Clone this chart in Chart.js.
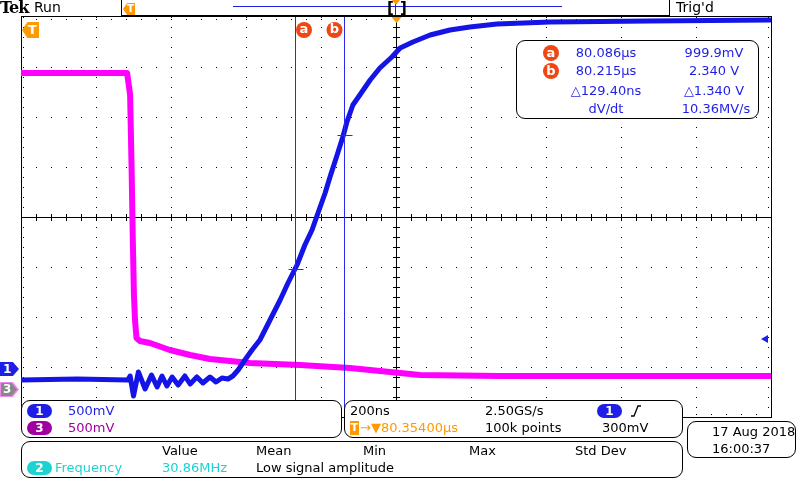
<!DOCTYPE html>
<html lang="en">
<head>
<meta charset="UTF-8">
<title>Tek scope capture</title>
<script src="https://cdn.jsdelivr.net/npm/chart.js"></script>
<style>
    body { margin: 0; background: #fff; }
    #scope { position: relative; width: 800px; height: 480px; overflow: hidden;
             font-family: "DejaVu Sans", sans-serif; font-size: 13px; color: #000; }
    #scope > * { position: absolute; }
    #wave { left: 0; top: 0; }
    .t { line-height: 14px; white-space: nowrap; }
    .c { text-align: center; width: 120px; }
    .box { box-sizing: border-box; border: 1px solid #000; border-radius: 9px; background: #fff; }
    .box > * { position: absolute; }
    .pill { width: 25px; height: 14px; border-radius: 7px; color: #fff;
            font-weight: bold; font-size: 12px; line-height: 14px; text-align: center; }
    .dot { width: 16px; height: 16px; border-radius: 8px; background: #f04614;
           color: #fff; font-weight: bold; font-size: 13px; line-height: 15px; text-align: center; }
    .blue { color: #1e1ee6; }
    .purple { color: #a000a0; }
    .cyan { color: #1ed2d2; }
    .orange { color: #ff9900; }
</style>
</head>
<body>
<div id="scope">
    <canvas id="wave" width="800" height="480"></canvas>

    <!-- barra do topo -->
    <div class="t" style="left:0;top:0;font-family:'DejaVu Serif',serif;font-weight:bold;font-size:16px;letter-spacing:-1px;line-height:16px">Tek</div>
    <div class="t" style="left:34px;top:0;font-size:14px;line-height:15px">Run</div>
    <div style="left:121px;top:-1px;width:549px;height:17px;box-sizing:border-box;border:1px solid #000;background:#fff">
        <div style="position:absolute;left:111px;top:6px;width:329px;height:1px;background:#1e1ee6"></div>
        <div style="position:absolute;left:1px;top:3px;width:12px;height:12px;background:#ff9900;clip-path:polygon(0 50%,35% 0,100% 0,100% 100%,35% 100%);color:#fff;font-weight:bold;font-size:10px;line-height:12px;text-align:right;padding-right:1px;box-sizing:border-box">T</div>
        <div style="position:absolute;left:265px;top:1px;font-size:15px;line-height:14px;font-weight:bold">[</div>
        <div style="position:absolute;left:278px;top:1px;font-size:15px;line-height:14px;font-weight:bold">]</div>
        <div style="position:absolute;left:273px;top:0;width:1px;height:15px;background:#1e1ee6"></div>
        <div style="position:absolute;left:270px;top:0;width:0;height:0;border-left:4px solid transparent;border-right:4px solid transparent;border-top:5px solid #ff9900"></div>
    </div>
    <div class="t" style="left:676px;top:0;font-size:14px;line-height:15px">Trig'd</div>

    <!-- marcadores de canal -->
    <div style="left:0;top:362px;width:19px;height:14px;background:#1e1ee6;clip-path:polygon(0 0,68% 0,100% 50%,68% 100%,0 100%);color:#fff;font-weight:bold;font-size:12px;line-height:14px;text-indent:3px">1</div>
    <div style="left:0;top:382px;width:19px;height:15px;background:#ee88ee;clip-path:polygon(0 0,68% 0,100% 50%,68% 100%,0 100%)">
        <div style="position:absolute;left:1px;top:1px;width:16px;height:13px;background:#888;clip-path:polygon(0 0,66% 0,100% 50%,66% 100%,0 100%);color:#fff;font-weight:bold;font-size:12px;line-height:13px;text-indent:2px">3</div>
    </div>
    <div style="left:22px;top:22px;width:17px;height:16px;background:#ff9900;clip-path:polygon(0 50%,32% 0,100% 0,100% 100%,32% 100%);color:#fff;font-weight:bold;font-size:13px;line-height:16px;text-indent:6px">T</div>

    <!-- leitura dos cursores -->
    <div class="box" style="left:516px;top:40px;width:243px;height:79px">
        <div class="dot" style="left:26px;top:4px">a</div>
        <div class="dot" style="left:26px;top:22px">b</div>
        <div class="t c blue" style="left:29px;top:5px">80.086µs</div>
        <div class="t c blue" style="left:137px;top:5px">999.9mV</div>
        <div class="t c blue" style="left:29px;top:23px">80.215µs</div>
        <div class="t c blue" style="left:137px;top:23px">2.340 V</div>
        <div class="t c blue" style="left:29px;top:43px">△129.40ns</div>
        <div class="t c blue" style="left:137px;top:43px">△1.340 V</div>
        <div class="t c blue" style="left:29px;top:61px">dV/dt</div>
        <div class="t c blue" style="left:139px;top:61px">10.36MV/s</div>
    </div>

    <!-- painel de escalas -->
    <div class="box" style="left:21px;top:400px;width:321px;height:38px">
        <div class="pill" style="left:5px;top:3px;background:#1e1ee6">1</div>
        <div class="pill" style="left:5px;top:20px;background:#a000a0">3</div>
        <div class="t blue" style="left:46px;top:3px">500mV</div>
        <div class="t purple" style="left:46px;top:20px">500mV</div>
    </div>
    <div class="box" style="left:344px;top:400px;width:339px;height:38px">
        <div class="t" style="left:5px;top:3px">200ns</div>
        <div class="t" style="left:140px;top:3px">2.50GS/s</div>
        <div class="pill" style="left:252px;top:3px;background:#1e1ee6">1</div>
        <svg style="left:286px;top:4px" width="10" height="12"><polyline points="0,11 3,11 7,1 10,1" fill="none" stroke="#000" stroke-width="1.3"/></svg>
        <div style="left:5px;top:20px;width:9px;height:14px;background:#ff9900;color:#fff;font-weight:bold;font-size:11px;line-height:14px;text-align:center">T</div>
        <div class="t orange" style="left:15px;top:20px">→▼80.35400µs</div>
        <div class="t" style="left:140px;top:20px">100k points</div>
        <div class="t" style="left:257px;top:20px">300mV</div>
    </div>
    <div class="box" style="left:21px;top:441px;width:662px;height:37px">
        <div class="t" style="left:140px;top:2px">Value</div>
        <div class="t" style="left:234px;top:2px">Mean</div>
        <div class="t" style="left:341px;top:2px">Min</div>
        <div class="t" style="left:447px;top:2px">Max</div>
        <div class="t" style="left:553px;top:2px">Std Dev</div>
        <div class="pill" style="left:5px;top:19px;background:#1ed2d2">2</div>
        <div class="t cyan" style="left:33px;top:19px">Frequency</div>
        <div class="t cyan" style="left:140px;top:19px">30.86MHz</div>
        <div class="t" style="left:234px;top:19px">Low signal amplitude</div>
    </div>
    <div class="box" style="left:687px;top:421px;width:109px;height:37px">
        <div class="t" style="left:24px;top:3px">17 Aug 2018</div>
        <div class="t" style="left:24px;top:20px">16:00:37</div>
    </div>
</div>

<script>
    // tempo em ns relativo ao centro da tela (80.354 us), tensão em V
    const ch1Time = [-1000, -850, -715, -709, -700, -687, -669, -652, -637, -624, -611, -597, -581, -563,
        -549, -531, -515, -496, -480, -464, -448, -435, -421, -403, -384, -363, -336, -309, -288,
        -264, -243, -224, -208, -189, -176, -157, -141, -131, -115, -91, -69, -43, -11, 11, 45,
        91, 144, 197, 269, 411, 677, 1000];
    const ch1Volts = [-0.11, -0.10, -0.11, -0.07, -0.27, -0.03, -0.20, -0.06, -0.18, -0.07, -0.17, -0.08, -0.16, -0.07,
        -0.15, -0.08, -0.14, -0.08, -0.13, -0.09, -0.10, -0.07, -0.01, 0.09, 0.19, 0.29, 0.49, 0.69, 0.86,
        1.04, 1.24, 1.39, 1.56, 1.76, 1.92, 2.14, 2.33, 2.47, 2.64, 2.77, 2.89, 3.01, 3.12, 3.21, 3.27,
        3.34, 3.39, 3.42, 3.45, 3.47, 3.48, 3.49];

    const ch3Time = [-1000, -717, -709, -705, -702, -699, -696, -692, -683, -656, -603, -549, -496,
        -443, -389, -256, -123, 11, 64, 277, 1000];
    const ch3Volts = [3.16, 3.16, 2.94, 2.19, 1.52, 0.96, 0.69, 0.51, 0.48, 0.46, 0.39, 0.34, 0.30,
        0.28, 0.26, 0.24, 0.21, 0.16, 0.14, 0.13, 0.13];

    const voltsPerDiv = 0.5;
    const ch1Offset = -3.04;   // divisões
    const ch3Offset = -3.44;
    const nsPerDiv = 200;

    const cursorTimes = [80.086 - 80.354, 80.215 - 80.354].map(v => v * 1000);
    const cursorVolts = [0.9999, 2.340];
    const cursorNames = ['a', 'b'];
    const trigLevel = 0.3;

    function toDiv(v, off) { return v / voltsPerDiv + off; }

    const graticule = {
        id: 'graticule',
        beforeDatasetsDraw(chart) {
            const { ctx, chartArea: a, scales: { x, y } } = chart;
            const px = v => Math.round(x.getPixelForValue(v));
            const py = v => Math.round(y.getPixelForValue(v));
            ctx.save();
            ctx.fillStyle = '#000';
            for (let t = -4 * nsPerDiv; t <= 4 * nsPerDiv; t += nsPerDiv) {
                if (t === 0) continue;
                for (let d = -20; d <= 20; d++) ctx.fillRect(px(t), py(d / 5), 1, 1);
            }
            for (let d = -3; d <= 3; d++) {
                if (d === 0) continue;
                for (let k = -25; k <= 25; k++) ctx.fillRect(px(k * nsPerDiv / 5), py(d), 1, 1);
            }
            // cruz central e bordas com marcas
            ctx.fillRect(a.left, py(0), a.right - a.left, 1);
            ctx.fillRect(px(0), a.top, 1, a.bottom - a.top);
            for (let k = -25; k <= 25; k++) {
                ctx.fillRect(px(k * nsPerDiv / 5), py(0) - 3, 1, 7);
                ctx.fillRect(px(k * nsPerDiv / 5), a.top + 2, 1, 1);
                ctx.fillRect(px(k * nsPerDiv / 5), a.bottom - 3, 1, 1);
            }
            for (let d = -20; d <= 20; d++) {
                ctx.fillRect(px(0) - 3, py(d / 5), 7, 1);
                ctx.fillRect(a.left + 2, py(d / 5), 1, 1);
                ctx.fillRect(a.right - 3, py(d / 5), 1, 1);
            }
            ctx.fillRect(a.left, a.top - 1, a.right - a.left + 1, 1);
            ctx.fillRect(a.left, a.bottom, a.right - a.left + 1, 1);
            ctx.fillRect(a.left, a.top, 1, a.bottom - a.top);
            ctx.fillRect(a.right, a.top, 1, a.bottom - a.top);
            ctx.restore();
        },
        afterDatasetsDraw(chart) {
            const { ctx, chartArea: a, scales: { x, y } } = chart;
            ctx.save();
            cursorTimes.forEach((t, i) => {
                const cx = Math.round(x.getPixelForValue(t)) + 0.5;
                ctx.strokeStyle = '#2828f0';
                ctx.lineWidth = 1;
                ctx.beginPath();
                ctx.moveTo(cx, a.top);
                ctx.lineTo(cx, a.bottom);
                ctx.stroke();
                const cy = Math.round(y.getPixelForValue(toDiv(cursorVolts[i], ch1Offset))) + 0.5;
                ctx.beginPath();
                ctx.moveTo(cx - 7, cy);
                ctx.lineTo(cx + 8, cy);
                ctx.stroke();
                const lx = i === 0 ? cx + 8.5 : cx - 10;
                ctx.fillStyle = '#f04614';
                ctx.beginPath();
                ctx.arc(lx, 30, 8, 0, Math.PI * 2);
                ctx.fill();
                ctx.fillStyle = '#fff';
                ctx.font = 'bold 13px "DejaVu Sans"';
                ctx.textAlign = 'center';
                ctx.textBaseline = 'middle';
                ctx.fillText(cursorNames[i], lx, 29.5);
            });
            // ponto de expansão e nível de trigger
            const tx = x.getPixelForValue(0) + 0.5;
            ctx.fillStyle = '#ff9900';
            ctx.beginPath();
            ctx.moveTo(tx - 5, a.top);
            ctx.lineTo(tx + 5, a.top);
            ctx.lineTo(tx, a.top + 6);
            ctx.fill();
            const ly = y.getPixelForValue(toDiv(trigLevel, ch1Offset));
            ctx.fillStyle = '#1e1ee6';
            ctx.beginPath();
            ctx.moveTo(a.right - 10, ly);
            ctx.lineTo(a.right - 3, ly - 4);
            ctx.lineTo(a.right - 3, ly + 4);
            ctx.fill();
            ctx.restore();
        }
    };

    new Chart(document.getElementById('wave'), {
        type: 'line',
        data: {
            datasets: [{
                label: 'CH1',
                data: ch1Time.map((t, i) => ({ x: t, y: toDiv(ch1Volts[i], ch1Offset) })),
                borderColor: '#1414e6',
                borderWidth: 5
            }, {
                label: 'CH3',
                data: ch3Time.map((t, i) => ({ x: t, y: toDiv(ch3Volts[i], ch3Offset) })),
                borderColor: '#ff00ff',
                borderWidth: 6
            }]
        },
        options: {
            responsive: false,
            animation: false,
            layout: { padding: { left: 21, right: 29, top: 17, bottom: 63 } },
            elements: { point: { radius: 0 }, line: { tension: 0, borderJoinStyle: 'round', borderCapStyle: 'butt' } },
            plugins: { legend: { display: false }, tooltip: { enabled: false } },
            scales: {
                x: { type: 'linear', min: -5 * nsPerDiv, max: 5 * nsPerDiv, display: false },
                y: { min: -4, max: 4, display: false }
            }
        },
        plugins: [graticule]
    });
</script>
</body>
</html>
